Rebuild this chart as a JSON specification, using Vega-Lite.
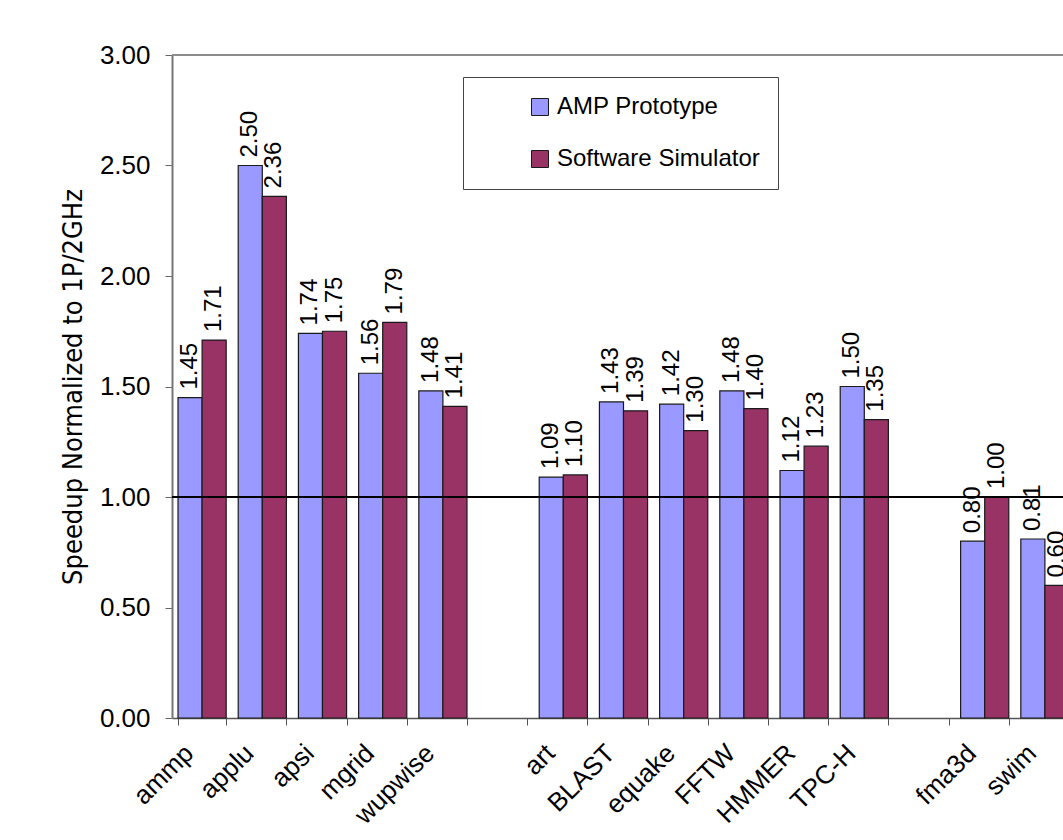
{
  "$schema": "https://vega.github.io/schema/vega-lite/v6.json",
  "autosize": {"type": "none"},
  "padding": {"left": 172, "top": 55, "right": -12, "bottom": 122},
  "width": 903,
  "height": 663,
  "background": "white",
  "config": {
    "view": {"stroke": null},
    "font": "Liberation Sans",
    "text": {"font": "Liberation Sans"}
  },
  "data": {
    "values": [
      {"bench": "ammp", "series": "AMP Prototype", "speedup": 1.45},
      {"bench": "ammp", "series": "Software Simulator", "speedup": 1.71},
      {"bench": "applu", "series": "AMP Prototype", "speedup": 2.50},
      {"bench": "applu", "series": "Software Simulator", "speedup": 2.36},
      {"bench": "apsi", "series": "AMP Prototype", "speedup": 1.74},
      {"bench": "apsi", "series": "Software Simulator", "speedup": 1.75},
      {"bench": "mgrid", "series": "AMP Prototype", "speedup": 1.56},
      {"bench": "mgrid", "series": "Software Simulator", "speedup": 1.79},
      {"bench": "wupwise", "series": "AMP Prototype", "speedup": 1.48},
      {"bench": "wupwise", "series": "Software Simulator", "speedup": 1.41},
      {"bench": "art", "series": "AMP Prototype", "speedup": 1.09},
      {"bench": "art", "series": "Software Simulator", "speedup": 1.10},
      {"bench": "BLAST", "series": "AMP Prototype", "speedup": 1.43},
      {"bench": "BLAST", "series": "Software Simulator", "speedup": 1.39},
      {"bench": "equake", "series": "AMP Prototype", "speedup": 1.42},
      {"bench": "equake", "series": "Software Simulator", "speedup": 1.30},
      {"bench": "FFTW", "series": "AMP Prototype", "speedup": 1.48},
      {"bench": "FFTW", "series": "Software Simulator", "speedup": 1.40},
      {"bench": "HMMER", "series": "AMP Prototype", "speedup": 1.12},
      {"bench": "HMMER", "series": "Software Simulator", "speedup": 1.23},
      {"bench": "TPC-H", "series": "AMP Prototype", "speedup": 1.50},
      {"bench": "TPC-H", "series": "Software Simulator", "speedup": 1.35},
      {"bench": "fma3d", "series": "AMP Prototype", "speedup": 0.80},
      {"bench": "fma3d", "series": "Software Simulator", "speedup": 1.00},
      {"bench": "swim", "series": "AMP Prototype", "speedup": 0.81},
      {"bench": "swim", "series": "Software Simulator", "speedup": 0.60}
    ]
  },
  "layer": [
    {
      "mark": {"type": "bar", "stroke": "#1a1a1a", "strokeWidth": 1.2},
      "encoding": {
        "x": {
          "field": "bench",
          "type": "nominal",
          "scale": {
            "domain": ["ammp", "applu", "apsi", "mgrid", "wupwise", "gap1", "art", "BLAST", "equake", "FFTW", "HMMER", "TPC-H", "gap2", "fma3d", "swim"],
            "paddingInner": 0.2,
            "paddingOuter": 0.1
          },
          "axis": {
            "title": null,
            "labelExpr": "indexof(datum.label, 'gap') == 0 ? '' : datum.label",
            "labelAngle": -45,
            "labelAlign": "right",
            "labelBaseline": "bottom",
            "labelFontSize": 26,
            "labelFont": "Liberation Sans",
            "labelColor": "black",
            "labelPadding": 33,
            "labelOffset": -4,
            "labelOverlap": false,
            "labelLimit": 300,
            "tickBand": "extent",
            "tickSize": 7,
            "tickColor": "#555555",
            "domainColor": "#555555",
            "domainWidth": 1.5
          }
        },
        "xOffset": {"field": "series", "type": "nominal"},
        "y": {
          "field": "speedup",
          "type": "quantitative",
          "scale": {"domain": [0, 3], "nice": false},
          "axis": {
            "title": "Speedup Normalized to 1P/2GHz",
            "values": [0, 0.5, 1, 1.5, 2, 2.5, 3],
            "format": ".2f",
            "grid": false,
            "labelFontSize": 26,
            "labelFont": "Liberation Sans",
            "labelColor": "black",
            "labelPadding": 15,
            "tickSize": 7,
            "tickColor": "#666666",
            "domainColor": "#777777",
            "domainWidth": 2,
            "titleFont": "Liberation Sans Narrow, Arial Narrow, DejaVu Sans Condensed, Liberation Sans",
            "titleFontSize": 27,
            "titleFontWeight": "normal",
            "titleColor": "black",
            "titlePadding": 12
          }
        },
        "color": {
          "field": "series",
          "type": "nominal",
          "scale": {"domain": ["AMP Prototype", "Software Simulator"], "range": ["#9999FF", "#993366"]},
          "legend": {
            "title": null,
            "orient": "none",
            "legendX": 291,
            "legendY": 22,
            "symbolType": "square",
            "symbolSize": 289,
            "symbolStrokeColor": "#1a1a1a",
            "symbolStrokeWidth": 1,
            "labelFontSize": 24,
            "labelFont": "Liberation Sans",
            "labelColor": "black",
            "labelLimit": 400,
            "padding": 18,
            "rowPadding": 28,
            "symbolOffset": 47,
            "labelOffset": 5,
            "strokeColor": "#444444",
            "fillColor": "white"
          }
        }
      }
    },
    {
      "mark": {"type": "text", "angle": 270, "align": "left", "baseline": "middle", "dx": 8, "fontSize": 24, "color": "black"},
      "encoding": {
        "x": {"field": "bench", "type": "nominal"},
        "xOffset": {"field": "series", "type": "nominal"},
        "y": {"field": "speedup", "type": "quantitative"},
        "text": {"field": "speedup", "type": "quantitative", "format": ".2f"}
      }
    },
    {
      "mark": {"type": "rule", "color": "black", "strokeWidth": 1.2},
      "encoding": {"y": {"datum": 1}}
    },
    {
      "mark": {"type": "rule", "color": "#8c8c8c", "strokeWidth": 2},
      "encoding": {"y": {"datum": 3}}
    }
  ]
}
